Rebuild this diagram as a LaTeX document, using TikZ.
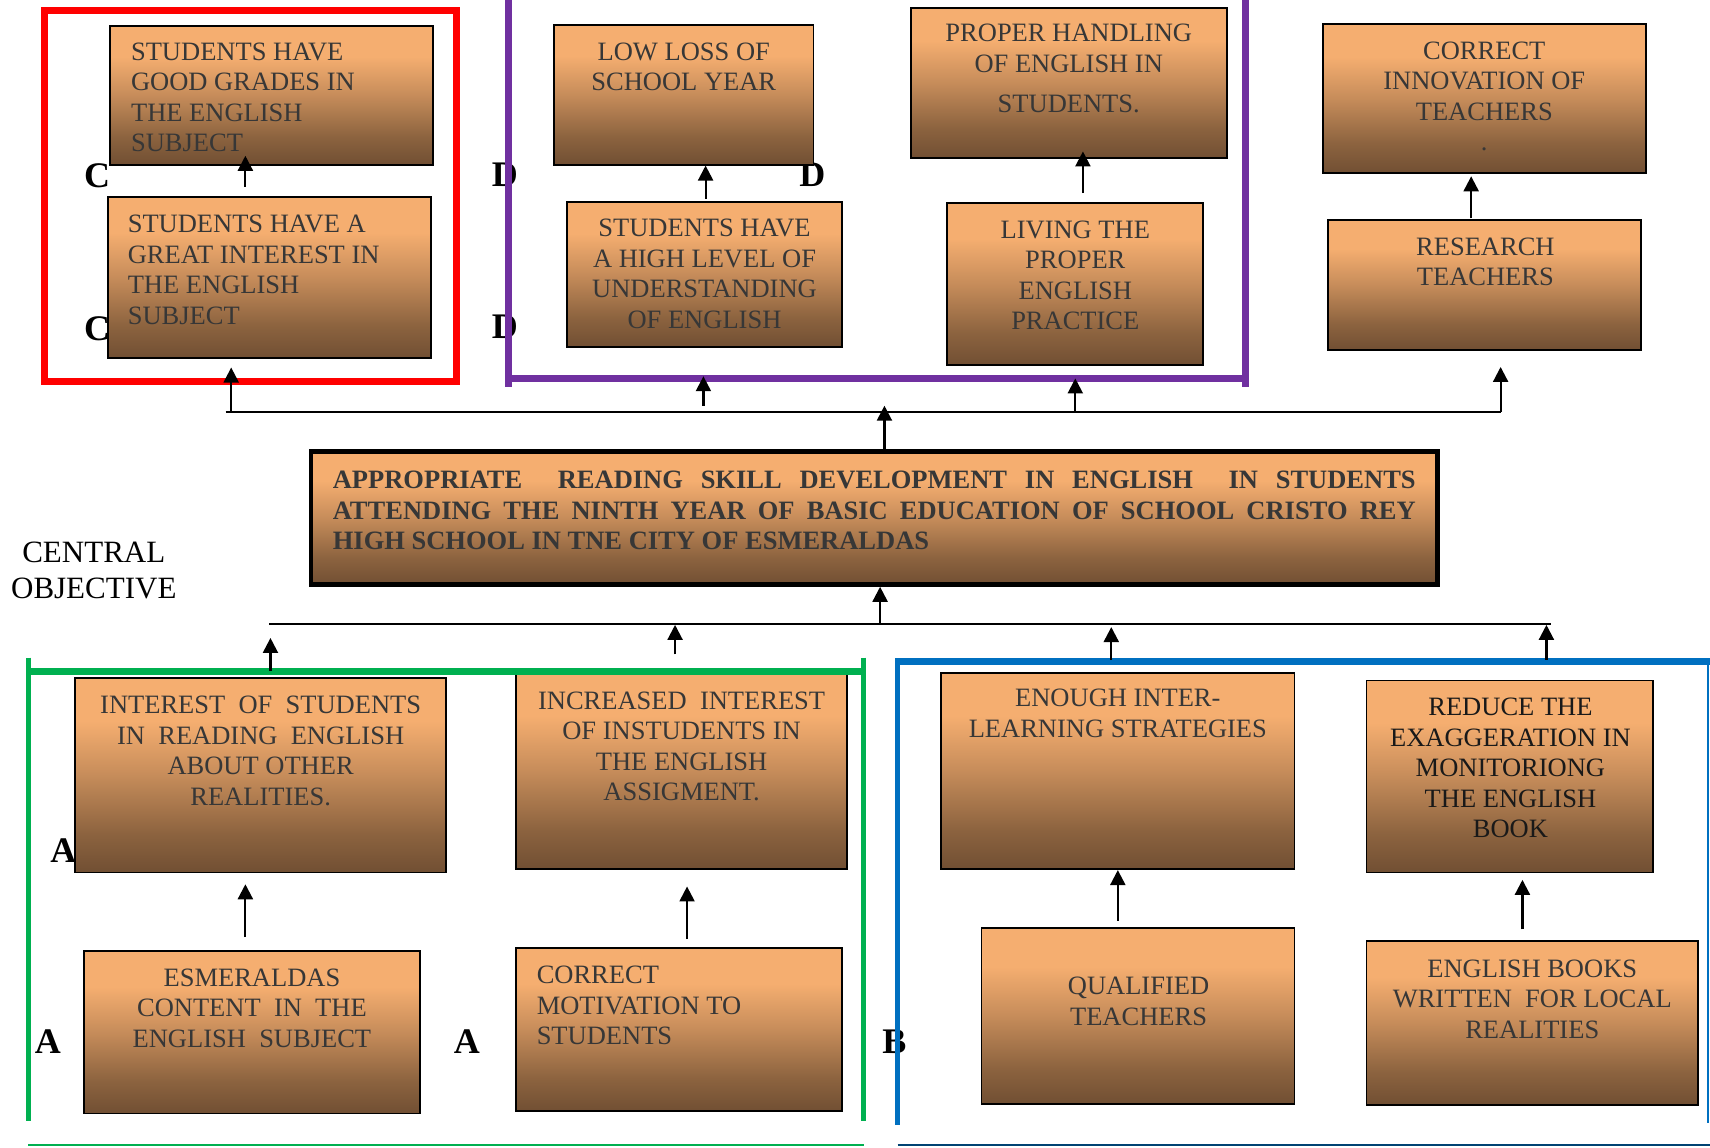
\documentclass[tikz,border=0pt]{standalone}
\usepackage{fontspec}
\setmainfont{Liberation Serif}
\usetikzlibrary{arrows.meta,fit}
\definecolor{boxtop}{RGB}{245,174,112}
\definecolor{boxm2}{RGB}{198,140,90}
\definecolor{boxm1}{RGB}{140,99,63}
\definecolor{boxbot}{RGB}{113,79,51}
\definecolor{txtc}{RGB}{55,55,55}
\definecolor{redf}{RGB}{255,0,0}
\definecolor{purf}{RGB}{112,48,160}
\definecolor{grnf}{RGB}{0,176,80}
\definecolor{bluf}{RGB}{0,112,192}
\pgfdeclareverticalshading{boxsh}{100bp}{color(0bp)=(boxbot); color(25bp)=(boxbot); color(35bp)=(boxm1); color(50bp)=(boxm2); color(64bp)=(boxtop); color(100bp)=(boxtop)}
\begin{document}
\begin{tikzpicture}[x=1.0906pt,y=-1.0906pt,
  box/.style={draw=black,line width=1.8pt,shading=boxsh,inner sep=0pt},
  txt/.style={font=\fontsize{26.5}{30.5}\selectfont,text=txtc,inner sep=0pt,align=center,anchor=north},
  txtl/.style={txt,align=left,anchor=north west},
  lbl/.style={font=\fontsize{36}{40}\selectfont\bfseries,inner sep=0pt},
  arr/.style={line width=2.2pt,-{Triangle[length=15pt,width=15pt]}},
  hline/.style={line width=2pt}]
\useasboundingbox (0,0) rectangle (1568,1052);
\fill[white] (0,0) rectangle (1568,1052);

% labels (behind boxes and frames)
\node[lbl] (lc1) at (89,161) {C};
\node[lbl] (lc2) at (89,301) {C};
\node[lbl] (ld1) at (463,160) {D};
\node[lbl] (ld2) at (745,160) {D};
\node[lbl] (ld3) at (463,300) {D};
\node[lbl] (la1) at (58,780) {A};
\node[lbl] (la2) at (44,955) {A};
\node[lbl] (la3) at (428,955) {A};
\node[lbl] (lb1) at (820,955) {B};
\node[font=\fontsize{31}{36}\selectfont,align=center,inner sep=0pt] (central) at (86,523) {CENTRAL\\OBJECTIVE};

% boxes
\node[box,fit={(101,24) (397,151)}] (ctop) {};
\node[box,fit={(99,181) (395,328)}] (cbot) {};
\node[box,fit={(508,23) (746,151)}] (d1) {};
\node[box,fit={(835,7) (1125,145)}] (d2) {};
\node[box,fit={(1213,22) (1509,159)}] (e1) {};
\node[box,fit={(520,185) (772,318)}] (d3) {};
\node[box,fit={(868,186) (1103,335)}] (d4) {};
\node[box,fit={(1218,202) (1505,321)}] (e2) {};
\node[box,line width=4.5pt,fit={(285,414) (1318,536)}] (obj) {};
\node[box,fit={(69,622) (409,800)}] (a1) {};
\node[box,fit={(473,617) (777,797)}] (a2) {};
\node[box,fit={(77,872) (385,1021)}] (a3) {};
\node[box,fit={(473,869) (772,1019)}] (a4) {};
\node[box,fit={(863,617) (1187,797)}] (b1) {};
\node[box,fit={(1253,624) (1516,800)}] (b2) {};
\node[box,fit={(900,851) (1187,1012)}] (b3) {};
\node[box,fit={(1253,863) (1557,1013)}] (b4) {};

% texts
\node[txtl] (tctop) at (120,39) {STUDENTS HAVE\\GOOD GRADES IN\\THE ENGLISH\\SUBJECT};
\node[txtl] (tcbot) at (117,197) {STUDENTS HAVE A\\GREAT INTEREST IN\\THE ENGLISH\\SUBJECT};
\node[txt] (td1) at (627,39) {LOW LOSS OF\\SCHOOL YEAR};
\node[txt] (td2) at (980,22) {PROPER HANDLING\\OF ENGLISH IN\\[10pt]STUDENTS.};
\node[txt] (te1) at (1361,38) {CORRECT\\INNOVATION OF\\TEACHERS\\.};
\node[txt] (td3) at (646,201) {STUDENTS HAVE\\A HIGH LEVEL OF\\UNDERSTANDING\\OF ENGLISH};
\node[txt] (td4) at (986,202) {LIVING THE\\PROPER\\ENGLISH\\PRACTICE};
\node[txt] (te2) at (1362,218) {RESEARCH\\TEACHERS};
\node[anchor=north west,inner sep=0pt,text=txtc,font=\fontsize{26.5}{30.5}\selectfont\bfseries] (tobj) at (305,432)
 {\parbox{1083pt}{\hyphenpenalty=10000\relax APPROPRIATE\ \ READING SKILL DEVELOPMENT IN ENGLISH\ \ IN STUDENTS\linebreak ATTENDING THE NINTH YEAR OF BASIC EDUCATION OF SCHOOL CRISTO REY\linebreak HIGH SCHOOL IN TNE CITY OF ESMERALDAS}};
\node[txt] (ta1) at (239,638) {INTEREST\ \ OF\ \ STUDENTS\\IN\ \ READING\ \ ENGLISH\\ABOUT OTHER\\REALITIES.};
\node[txt] (ta2) at (625,634) {INCREASED\ \ INTEREST\\OF INSTUDENTS IN\\THE ENGLISH\\ASSIGMENT.};
\node[txt] (ta3) at (231,888) {ESMERALDAS\\CONTENT\ \ IN\ \ THE\\ENGLISH\ \ SUBJECT};
\node[txtl] (ta4) at (492,886) {CORRECT\\MOTIVATION TO\\STUDENTS};
\node[txt] (tb1) at (1025,632) {ENOUGH INTER-\\LEARNING STRATEGIES};
\node[txt,text=black!90] (tb2) at (1385,640) {REDUCE THE\\EXAGGERATION IN\\MONITORIONG\\THE ENGLISH\\BOOK};
\node[txt] (tb3) at (1044,896) {QUALIFIED\\TEACHERS};
\node[txt] (tb4) at (1405,880) {ENGLISH BOOKS\\WRITTEN\ \ FOR LOCAL\\REALITIES};

% frames
\draw[redf,line width=7pt] (41,10) rectangle (419,350);
\draw[purf,line width=7pt] (466,0) -- (466,355) (1142,0) -- (1142,355);
\draw[purf,line width=7pt] (466,347) -- (1142,347);
\draw[grnf,line width=7pt] (24,616) -- (794,616);
\draw[grnf,line width=4.5pt] (26,603) -- (26,1028) (792,603) -- (792,1028);
\draw[grnf,line width=2.5pt] (26,1050) -- (792,1050);
\draw[bluf,line width=7pt] (821,607) -- (1568,607);
\draw[bluf,line width=5pt] (823,605) -- (823,1032);
\draw[bluf,line width=2pt] (1566,607) -- (1566,1030);
\draw[bluf!60!black,line width=1.5pt] (823,1050) -- (1568,1050);

% coordinates of connector ends
\coordinate (hl) at (207,378);
\coordinate (hr) at (1376,378);
\coordinate (ll) at (247,572);
\coordinate (lr) at (1422,572);
\coordinate (pr1) at (212,378);
\coordinate (pr2) at (212,337);
\coordinate (pp1) at (645,372);
\coordinate (pp2) at (645,345);
\coordinate (pq1) at (986,378);
\coordinate (pq2) at (986,347);
\coordinate (pc) at (811,372);
\coordinate (pb) at (807,572);
\coordinate (g1) at (248,615);
\coordinate (g1t) at (248,585);
\coordinate (g2) at (619,600);
\coordinate (g2t) at (619,573);
\coordinate (u1) at (1019,605);
\coordinate (u1t) at (1019,575);
\coordinate (u2) at (1418,605);
\coordinate (u2t) at (1418,573);

% connectors
\draw[hline] (hl) -- (hr);
\draw[hline] (ll) -- (lr);
\draw[arr,shorten <=9.8pt, shorten >=-9.8pt] (cbot.north -| 225,0) -- (ctop.south -| 225,0);
\draw[arr,shorten <=2pt] (d3.north -| 647,0) -- (d1.south -| 647,0);
\draw[arr,shorten <=8.7pt,shorten >=-7.6pt] (d4.north -| 993,0) -- (d2.south -| 993,0);
\draw[arr,shorten <=1pt,shorten >=2pt] (e2.north -| 1349,0) -- (e1.south -| 1349,0);
\draw[arr,shorten <=13pt,shorten >=10.9pt] (a3.north -| 225,0) -- (a1.south -| 225,0);
\draw[arr,shorten <=7.6pt,shorten >=16.4pt] (a4.north -| 630,0) -- (a2.south -| 630,0);
\draw[arr,shorten <=6.5pt] (b3.north -| 1025,0) -- (b1.south -| 1025,0);
\draw[arr,shorten <=10.9pt,shorten >=6.5pt] (b4.north -| 1396,0) -- (b2.south -| 1396,0);
\draw[arr] (pr1) -- (pr2);
\draw[arr] (pp1) -- (pp2);
\draw[arr] (pq1) -- (pq2);
\draw[arr,shorten >=16pt] (hr) -- (e2.south -| hr);
\draw[arr] (obj.north -| pc) -- (pc);
\draw[arr] (pb) -- (obj.south -| pb);
\draw[arr] (g1) -- (g1t);
\draw[arr] (g2) -- (g2t);
\draw[arr] (u1) -- (u1t);
\draw[arr] (u2) -- (u2t);
\end{tikzpicture}
\end{document}
